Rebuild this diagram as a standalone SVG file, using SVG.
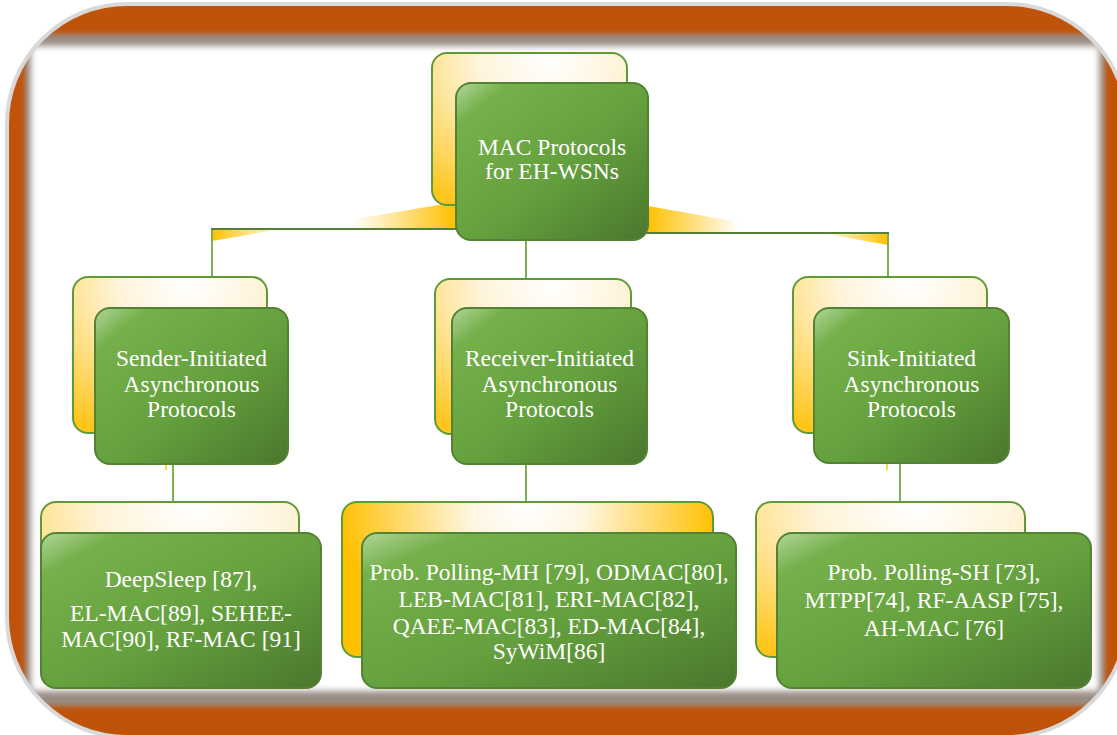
<svg xmlns="http://www.w3.org/2000/svg" width="1117" height="735" viewBox="0 0 1117 735">
<defs>
<style>
.front{fill:url(#gGreen);stroke:#548235;stroke-width:2}
.back{stroke:#5E9A38;stroke-width:2}
.yb{fill:url(#gYellow)}
.ybw{fill:url(#gYellowWide)}
.t{font-family:"Liberation Serif","Times New Roman",serif;font-size:23.5px;fill:#FFFFFF;text-anchor:middle}
.hline{stroke:#538135;stroke-width:2.2;fill:none}
.vline{stroke:#78B350;stroke-width:2;fill:none}
</style>
<linearGradient id="gGreen" x1="0" y1="0" x2="1" y2="1">
<stop offset="0" stop-color="#B2D69A"/>
<stop offset="0.14" stop-color="#75B04B"/>
<stop offset="0.55" stop-color="#64A03D"/>
<stop offset="1" stop-color="#4A772E"/>
</linearGradient>
<radialGradient id="gYellow" cx="0.6" cy="0.05" r="1.05">
<stop offset="0" stop-color="#FFFFFF"/>
<stop offset="0.35" stop-color="#FFF4DA"/>
<stop offset="1" stop-color="#FFC51A"/>
</radialGradient>
<radialGradient id="gYellowWide" cx="0.5" cy="0.05" r="0.6" gradientTransform="translate(0.5 0.05) scale(0.85 1.6) translate(-0.5 -0.05)">
<stop offset="0" stop-color="#FFFFFF"/>
<stop offset="0.3" stop-color="#FFF6E2"/>
<stop offset="1" stop-color="#FFC000"/>
</radialGradient>
<linearGradient id="gWedgeL1" gradientUnits="userSpaceOnUse" x1="212" y1="0" x2="282" y2="0">
<stop offset="0" stop-color="#FFC000"/>
<stop offset="1" stop-color="#FFFFFF"/>
</linearGradient>
<linearGradient id="gWedgeL2" gradientUnits="userSpaceOnUse" x1="296" y1="0" x2="456" y2="0">
<stop offset="0" stop-color="#FFFFFF"/>
<stop offset="0.35" stop-color="#FFFFFF"/>
<stop offset="1" stop-color="#FFC000"/>
</linearGradient>
<linearGradient id="gWedgeR1" gradientUnits="userSpaceOnUse" x1="648" y1="0" x2="800" y2="0">
<stop offset="0" stop-color="#FFC000"/>
<stop offset="0.6" stop-color="#FFFFFF"/>
<stop offset="1" stop-color="#FFFFFF"/>
</linearGradient>
<linearGradient id="gWedgeR2" gradientUnits="userSpaceOnUse" x1="821" y1="0" x2="888" y2="0">
<stop offset="0" stop-color="#FFFFFF"/>
<stop offset="1" stop-color="#FFC000"/>
</linearGradient>
<clipPath id="frameClip">
<rect x="7" y="4" width="1120" height="733" rx="120" ry="120"/>
</clipPath>
<filter id="blurS" x="-5%" y="-5%" width="110%" height="110%">
<feGaussianBlur stdDeviation="2.5"/>
</filter>
<filter id="blurW" x="-5%" y="-5%" width="110%" height="110%">
<feGaussianBlur stdDeviation="3"/>
</filter>
</defs>

<g id="frame">
<rect x="7" y="4" width="1120" height="733" rx="120" ry="120" fill="#C0530A"/>
<g clip-path="url(#frameClip)">
<rect x="25" y="34" width="1080" height="672" fill="#9A8C84" filter="url(#blurS)"/>
<rect x="31" y="46" width="1068" height="645" fill="#FFFFFF" filter="url(#blurW)"/>
</g>
<rect x="7" y="4" width="1120" height="733" rx="120" ry="120" fill="none" stroke="#D9D9D9" stroke-width="4"/>
</g>

<g id="connectors">
<polygon points="212,229 212,241 282,229" fill="url(#gWedgeL1)"/>
<polygon points="296,229 456,202 456,229" fill="url(#gWedgeL2)"/>
<polygon points="648,206 648,233 800,233" fill="url(#gWedgeR1)"/>
<polygon points="821,233 888,233 888,245" fill="url(#gWedgeR2)"/>
<rect x="165" y="464" width="2" height="6" fill="#FFD24D"/>
<rect x="886" y="464" width="2" height="6" fill="#FFD24D"/>
<line class="vline" x1="212" y1="229" x2="212" y2="278"/>
<line class="vline" x1="888" y1="233" x2="888" y2="278"/>
<line class="vline" x1="526" y1="238" x2="526" y2="280"/>
<line class="hline" x1="211" y1="229" x2="458" y2="229"/>
<line class="hline" x1="646" y1="233" x2="889" y2="233"/>
<line class="vline" x1="173" y1="464" x2="173" y2="503"/>
<line class="vline" x1="526" y1="464" x2="526" y2="503"/>
<line class="vline" x1="900" y1="463" x2="900" y2="503"/>
</g>

<g id="node-root">
<rect class="back yb" x="432" y="53" width="195" height="152" rx="15"/>
<rect class="front" x="456" y="83" width="192" height="157" rx="15"/>
<text class="t" x="552" y="155">MAC Protocols</text>
<text class="t" x="552" y="179">for EH-WSNs</text>
</g>

<g id="node-sender">
<rect class="back yb" x="73" y="277" width="194" height="156" rx="15"/>
<rect class="front" x="95" y="308" width="193" height="156" rx="15"/>
<text class="t" x="191.5" y="366">Sender-Initiated</text>
<text class="t" x="191.5" y="392">Asynchronous</text>
<text class="t" x="191.5" y="417">Protocols</text>
</g>

<g id="node-receiver">
<rect class="back yb" x="435" y="279" width="196" height="155" rx="15"/>
<rect class="front" x="452" y="308" width="195" height="156" rx="15"/>
<text class="t" x="549.5" y="366">Receiver-Initiated</text>
<text class="t" x="549.5" y="392">Asynchronous</text>
<text class="t" x="549.5" y="417">Protocols</text>
</g>

<g id="node-sink">
<rect class="back yb" x="793" y="277" width="194" height="156" rx="15"/>
<rect class="front" x="814" y="308" width="195" height="155" rx="15"/>
<text class="t" x="911.5" y="366">Sink-Initiated</text>
<text class="t" x="911.5" y="392">Asynchronous</text>
<text class="t" x="911.5" y="417">Protocols</text>
</g>

<g id="node-sender-list">
<rect class="back yb" x="41" y="502" width="258" height="155" rx="15"/>
<rect class="front" x="41" y="533" width="280" height="155" rx="15"/>
<text class="t" x="181" y="587">DeepSleep [87],</text>
<text class="t" x="181" y="621">EL-MAC[89], SEHEE-</text>
<text class="t" x="181" y="647">MAC[90], RF-MAC [91]</text>
</g>

<g id="node-receiver-list">
<rect class="back ybw" x="342" y="502" width="371" height="155" rx="15"/>
<rect class="front" x="362" y="533" width="374" height="155" rx="15"/>
<text class="t" x="549" y="580">Prob. Polling-MH [79], ODMAC[80],</text>
<text class="t" x="549" y="607">LEB-MAC[81], ERI-MAC[82],</text>
<text class="t" x="549" y="634">QAEE-MAC[83], ED-MAC[84],</text>
<text class="t" x="549" y="659">SyWiM[86]</text>
</g>

<g id="node-sink-list">
<rect class="back yb" x="756" y="502" width="269" height="155" rx="15"/>
<rect class="front" x="777" y="533" width="314" height="155" rx="15"/>
<text class="t" x="934" y="580">Prob. Polling-SH [73],</text>
<text class="t" x="934" y="608">MTPP[74], RF-AASP [75],</text>
<text class="t" x="934" y="636">AH-MAC [76]</text>
</g>
</svg>
